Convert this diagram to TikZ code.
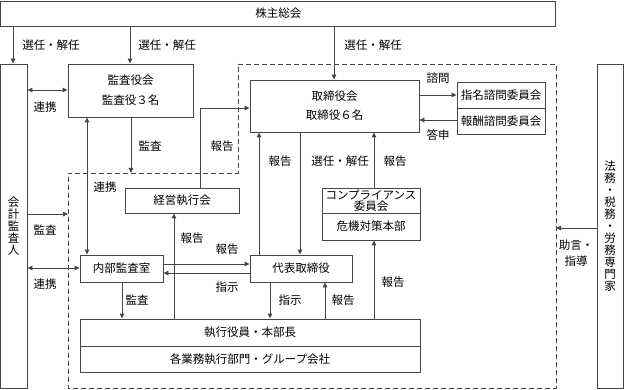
\documentclass[tikz,border=0pt]{standalone}
\usepackage{fontspec}
\setmainfont{Noto Sans CJK JP}
\usetikzlibrary{arrows.meta}
\definecolor{ln}{RGB}{70,70,70}
\tikzset{
  box/.style={draw=ln, line width=0.9pt, inner sep=0pt, align=center, font=\fontsize{11.5}{13}\selectfont},
  con/.style={draw=ln, line width=0.9pt, -{Triangle[length=5pt,width=4.5pt]}},
  dcon/.style={draw=ln, line width=0.9pt, {Triangle[length=5pt,width=4.5pt]}-{Triangle[length=5pt,width=4.5pt]}},
  lbl/.style={inner sep=0pt, font=\fontsize{11.5}{13}\selectfont},
  dash region/.style={draw=ln, line width=0.9pt, dash pattern=on 5pt off 3pt}
}
\begin{document}
\begin{tikzpicture}[x=1pt,y=-1pt]
\useasboundingbox (0,0) rectangle (624,390);
% dashed region
\draw[dash region] (238,64) -- (556,64) -- (556,388) -- (68,388) -- (68,173) -- (238,173) -- cycle;
% boxes
\node[box, minimum width=555pt, minimum height=25pt] (soukai) at (278.25,13.5) {株主総会};
\node[box, minimum width=26.5pt, minimum height=324pt, font=\fontsize{11.5}{12}\selectfont] (kaikei) at (13.75,226) {会\\計\\監\\査\\人};
\node[box, minimum width=125pt, minimum height=53pt, font=\fontsize{11.5}{20}\selectfont] (kansayaku) at (130.5,90.5) {監査役会\\監査役３名};
\node[box, minimum width=169pt, minimum height=52pt, font=\fontsize{11.5}{19}\selectfont] (torishimari) at (334.5,106) {取締役会\\取締役６名};
\node[box, minimum width=88pt, minimum height=26pt] (shimei) at (501,95) {指名諮問委員会};
\node[box, minimum width=88pt, minimum height=26pt] (houshu) at (501,121) {報酬諮問委員会};
\node[box, minimum width=114pt, minimum height=25pt] (keiei) at (182,200.5) {経営執行会};
\node[box, minimum width=83pt, minimum height=27pt] (naibu) at (121.5,268.5) {内部監査室};
\node[box, minimum width=102pt, minimum height=27pt] (daihyo) at (301,268.5) {代表取締役};
\node[box, minimum width=98pt, minimum height=25pt, font=\fontsize{11.5}{10.5}\selectfont] (comp) at (371,200.5) {コンプライアンス\\委員会};
\node[box, minimum width=98pt, minimum height=27pt] (kiki) at (371,226.5) {危機対策本部};
\node[box, minimum width=340pt, minimum height=27pt] (shikko) at (250,332.5) {執行役員・本部長};
\node[box, minimum width=340pt, minimum height=26pt] (kakugyomu) at (250,359) {各業務執行部門・グループ会社};
\node[box, minimum width=26pt, minimum height=324pt, font=\fontsize{11.5}{12}\selectfont] (hom) at (610,226) {法\\務\\・\\税\\務\\・\\労\\務\\専\\門\\家};
% free-end coordinates on the dashed region
\coordinate (dtop) at (131,173);
\coordinate (dleft) at (68,214);
\coordinate (dright) at (556,228);
% connectors
\draw[con] (soukai.south -| 13,0) -- (kaikei.north -| 13,0);
\draw[con] (soukai.south -| 130,0) -- (kansayaku.north -| 130,0);
\draw[con] (soukai.south -| 334,0) -- (torishimari.north -| 334,0);
\draw[dcon] (kaikei.east |- 0,90) -- (kansayaku.west |- 0,90);
\draw[con] (kansayaku.south -| dtop) -- (dtop);
\draw[con] (keiei.north -| 200,0) -- (200,108) -- (torishimari.west |- 0,108);
\draw[dcon] (kansayaku.south -| 87,0) -- (naibu.north -| 87,0);
\draw[con] (kaikei.east |- dleft) -- (dleft);
\draw[dcon] (kaikei.east |- 0,268) -- (naibu.west |- 0,268);
\draw[con] (naibu.east |- 0,264) -- (daihyo.west |- 0,264);
\draw[con] (daihyo.west |- 0,273) -- (naibu.east |- 0,273);
\draw[con] (shikko.north -| 174,0) -- (keiei.south -| 174,0);
\draw[con] (torishimari.south -| 300,0) -- (daihyo.north -| 300,0);
\draw[con] (daihyo.north -| 259,0) -- (torishimari.south -| 259,0);
\draw[con] (comp.north -| 374,0) -- (torishimari.south -| 374,0);
\draw[con] (shikko.north -| 374,0) -- (kiki.south -| 374,0);
\draw[con] (daihyo.south -| 270,0) -- (shikko.north -| 270,0);
\draw[con] (shikko.north -| 325,0) -- (daihyo.south -| 325,0);
\draw[con] (naibu.south -| 122,0) -- (shikko.north -| 122,0);
\draw[con] (torishimari.east |- 0,95) -- (shimei.west |- 0,95);
\draw[con] (houshu.west |- 0,120) -- (torishimari.east |- 0,120);
\draw[con] (hom.west |- dright) -- (dright);
% labels
\node[lbl] (l1) at (51,45) {選任・解任};
\node[lbl] (l2) at (167,45) {選任・解任};
\node[lbl] (l3) at (373,45) {選任・解任};
\node[lbl] (l4) at (45,107) {連携};
\node[lbl] (l5) at (150,146) {監査};
\node[lbl] (l6) at (222,146) {報告};
\node[lbl] (l7) at (105,187) {連携};
\node[lbl] (l8) at (45,230) {監査};
\node[lbl] (l9) at (45,284) {連携};
\node[lbl] (l10) at (192,238) {報告};
\node[lbl] (l11) at (227,249) {報告};
\node[lbl] (l12) at (227,287) {指示};
\node[lbl] (l13) at (280,161) {報告};
\node[lbl] (l14) at (340,161) {選任・解任};
\node[lbl] (l15) at (395,161) {報告};
\node[lbl] (l16) at (438,78) {諮問};
\node[lbl] (l17) at (438,135) {答申};
\node[lbl] (l18) at (137,300) {監査};
\node[lbl] (l19) at (290,300) {指示};
\node[lbl] (l20) at (343,300) {報告};
\node[lbl] (l21) at (393,282) {報告};
\node[lbl, align=center, font=\fontsize{11.5}{16}\selectfont] (l22) at (576,253) {助言・\\指導};
\end{tikzpicture}
\end{document}
